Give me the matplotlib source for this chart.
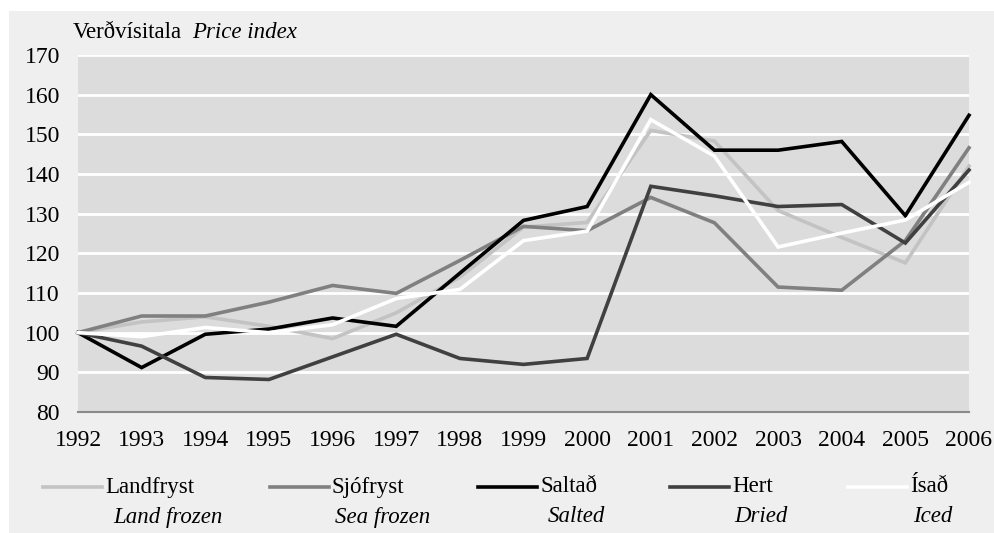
import matplotlib
matplotlib.use('Agg')
import matplotlib.pyplot as plt
from matplotlib.lines import Line2D
from matplotlib.patches import Rectangle

plt.rcParams['font.family'] = ['Liberation Serif', 'DejaVu Serif']

years = list(range(1992, 2007))

landfryst = [100, 102.7, 104, 101.6, 98.5, 105, 114, 126.6, 127.8, 151, 148.3, 130.8, 124, 117.6, 142]
sjofryst = [100, 104.2, 104.2, 107.7, 111.9, 109.9, 118.2, 126.8, 125.7, 134.1, 127.7, 111.5, 110.7, 123.2, 146.6]
saltad = [100, 91.2, 99.6, 100.9, 103.7, 101.6, 115, 128.3, 131.8, 160, 146, 146, 148.2, 129.5, 154.8]
hert = [100, 96.6, 88.7, 88.2, 93.9, 99.6, 93.5, 92, 93.5, 136.9, 134.5, 131.8, 132.3, 122.6, 141]
isad = [100, 99, 101.3, 100, 102, 108.6, 110.9, 123.2, 125.6, 153.7, 144.5, 121.6, 125.1, 128.4, 137.9]

names_is = ['Landfryst', 'Sjófryst', 'Saltað', 'Hert', 'Ísað']
names_en = ['Land frozen', 'Sea frozen', 'Salted', 'Dried', 'Iced']
colors = ['#c3c3c3', '#808080', '#000000', '#404040', '#ffffff']
series = [landfryst, sjofryst, saltad, hert, isad]

W, H = 995, 533
fig = plt.figure(figsize=(W / 100, H / 100), dpi=100)
fig.patch.set_facecolor('white')
# light grey panel behind everything
fig.add_artist(Rectangle((9 / W, 0), 1 - 9 / W, 1 - 11 / H, transform=fig.transFigure,
                         facecolor='#efefef', edgecolor='none', zorder=-10))

ax = fig.add_axes([78 / W, 1 - 412 / H, (969 - 78) / W, (412 - 55) / H])
ax.set_facecolor('#dcdcdc')
ax.set_xlim(1992, 2006)
ax.set_ylim(80, 170)
ax.set_yticks(range(80, 171, 10))
ax.set_xticks(years)
ax.grid(axis='y', color='white', lw=2)
ax.set_axisbelow(True)
for s in ['top', 'right', 'left']:
    ax.spines[s].set_visible(False)
ax.spines['bottom'].set_color('#8a8a8a')
ax.spines['bottom'].set_linewidth(1.5)
ax.tick_params(length=0)
ax.tick_params(axis='y', labelsize=17, pad=13)
ax.tick_params(axis='x', labelsize=17, pad=13)

for vals, c in zip(series, colors):
    ax.plot(years, vals, color=c, lw=2.6, solid_joinstyle='miter', clip_on=False)

fig.text(73 / W, 1 - 38 / H, 'Verðvísitala', fontsize=16.5, va='baseline')
fig.text(192 / W, 1 - 38 / H, 'Price index', fontsize=16.5, style='italic', va='baseline')

# manual legend
line_x = [43, 270, 478, 670, 848]
en_x = [113, 335, 548, 734, 913]
for lx, ex, c, n1, n2 in zip(line_x, en_x, colors, names_is, names_en):
    fig.add_artist(Line2D([lx / W, (lx + 59) / W], [1 - 487 / H] * 2, color=c, lw=2.6,
                          transform=fig.transFigure))
    fig.text((lx + 62) / W, 1 - 487 / H, n1, fontsize=16.5, va='center')
    fig.text(ex / W, 1 - 517 / H, n2, fontsize=16.5, style='italic', va='center')

fig.savefig('out.png', dpi=100)
